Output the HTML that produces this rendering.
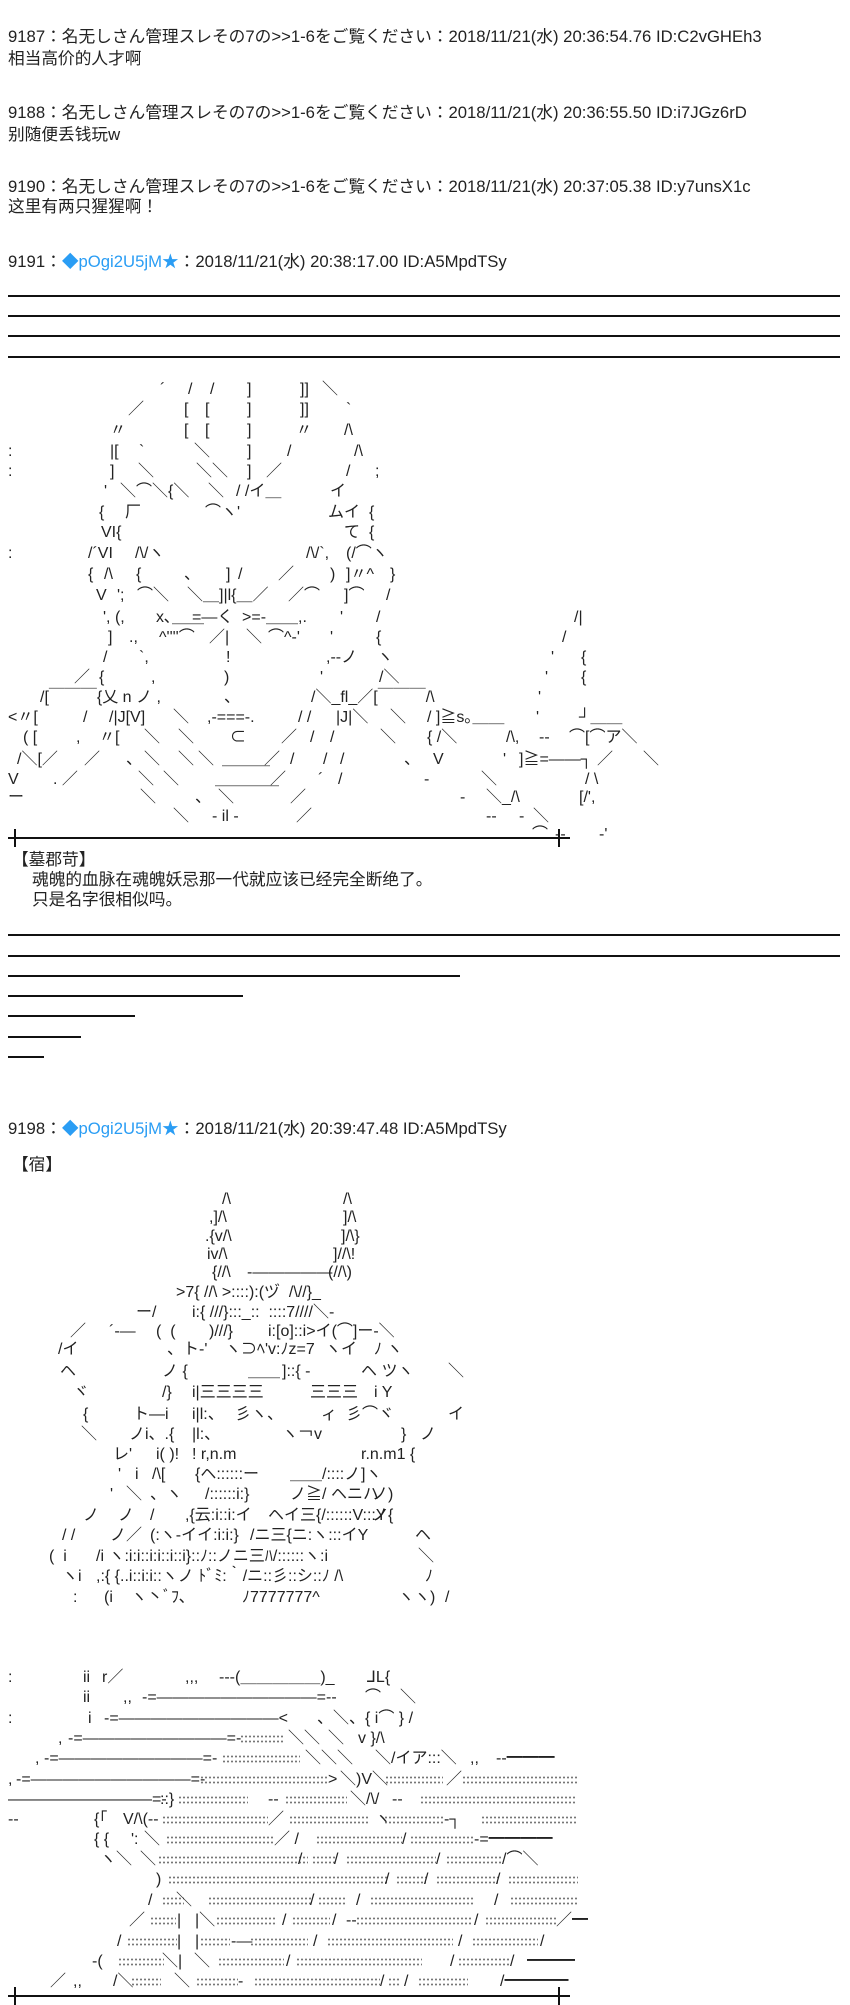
<!DOCTYPE html>
<html><head><meta charset="utf-8">
<style>
html,body{margin:0;padding:0;background:#fff;}
body{width:850px;height:2000px;position:relative;overflow:hidden;font-family:"Liberation Sans","Noto Sans CJK JP",sans-serif;color:#222;}
.t{position:absolute;left:8px;font-size:16.7px;line-height:20px;white-space:pre;}
.b{color:#2a9df4;}
.hr{position:absolute;left:8px;height:2px;background:#111;}
.tick{position:absolute;width:2px;height:18px;background:#111;}
.r{position:absolute;left:0;height:20px;width:850px;font-size:16px;line-height:20px;}
.r i{position:absolute;top:0;font-style:normal;white-space:pre;}
.r b{position:absolute;top:5px;height:10px;background:radial-gradient(circle,#777 0.8px,transparent 1.2px) 0 0/4px 5px;}
</style></head><body>

<div class="t" style="top:27px">9187：名无しさん管理スレその7の&gt;&gt;1-6をご覧ください：2018/11/21(水) 20:36:54.76 ID:C2vGHEh3</div>
<div class="t" style="top:49px">相当高价的人才啊</div>
<div class="t" style="top:103px">9188：名无しさん管理スレその7の&gt;&gt;1-6をご覧ください：2018/11/21(水) 20:36:55.50 ID:i7JGz6rD</div>
<div class="t" style="top:125px">别随便丢钱玩w</div>
<div class="t" style="top:177px">9190：名无しさん管理スレその7の&gt;&gt;1-6をご覧ください：2018/11/21(水) 20:37:05.38 ID:y7unsX1c</div>
<div class="t" style="top:197px">这里有两只猩猩啊！</div>
<div class="t" style="top:252px">9191：<span class="b">◆pOgi2U5jM★</span>：2018/11/21(水) 20:38:17.00 ID:A5MpdTSy</div>

<div class="hr" style="top:295px;width:832px"></div>
<div class="hr" style="top:315px;width:832px"></div>
<div class="hr" style="top:335px;width:832px"></div>
<div class="hr" style="top:356px;width:832px"></div>

<!-- AA 1 -->
<div class="r" style="top:380px"><i style="left:160px">´</i><i style="left:188px">/</i><i style="left:210px">/</i><i style="left:247px">]</i><i style="left:300px">]]</i><i style="left:322px">＼</i></div>
<div class="r" style="top:400px"><i style="left:128px">／</i><i style="left:184px">[</i><i style="left:205px">[</i><i style="left:247px">]</i><i style="left:300px">]]</i><i style="left:346px">`</i></div>
<div class="r" style="top:421px"><i style="left:110px">〃</i><i style="left:184px">[</i><i style="left:205px">[</i><i style="left:247px">]</i><i style="left:296px">〃</i><i style="left:344px">/\</i></div>
<div class="r" style="top:442px"><i style="left:8px">:</i><i style="left:110px">|[</i><i style="left:139px">`</i><i style="left:194px">＼</i><i style="left:247px">]</i><i style="left:287px">/</i><i style="left:354px">/\</i></div>
<div class="r" style="top:462px"><i style="left:8px">:</i><i style="left:110px">]</i><i style="left:138px">＼</i><i style="left:196px">＼＼</i><i style="left:247px">]</i><i style="left:266px">／</i><i style="left:346px">/</i><i style="left:375px">;</i></div>
<div class="r" style="top:482px"><i style="left:104px">'</i><i style="left:120px">＼⌒＼{＼</i><i style="left:208px">＼</i><i style="left:236px">/ /イ＿</i><i style="left:330px">イ</i></div>
<div class="r" style="top:503px"><i style="left:99px">{</i><i style="left:125px">厂</i><i style="left:205px">⌒ヽ'</i><i style="left:328px">ムイ</i><i style="left:369px">{</i></div>
<div class="r" style="top:523px"><i style="left:101px">VI{</i><i style="left:344px">て</i><i style="left:369px">{</i></div>
<div class="r" style="top:544px"><i style="left:8px">:</i><i style="left:88px">/´VI</i><i style="left:135px">/\/ヽ</i><i style="left:306px">/\/`,</i><i style="left:346px">(/⌒ヽ</i></div>
<div class="r" style="top:565px"><i style="left:88px">{</i><i style="left:104px">/\</i><i style="left:136px">{</i><i style="left:184px">、</i><i style="left:226px">]</i><i style="left:238px">/</i><i style="left:278px">／</i><i style="left:330px">)</i><i style="left:346px">]〃^</i><i style="left:390px">}</i></div>
<div class="r" style="top:586px"><i style="left:96px">V</i><i style="left:117px">';</i><i style="left:137px">⌒＼</i><i style="left:187px">＼＿]|l{＿／</i><i style="left:288px">／⌒</i><i style="left:344px">]⌒</i><i style="left:386px">/</i></div>
<div class="r" style="top:608px"><i style="left:103px">', (,</i><i style="left:156px">x､＿＿</i><i style="left:192px">=―く</i><i style="left:242px">&gt;=-＿＿,.</i><i style="left:340px">'</i><i style="left:376px">/</i><i style="left:574px">/|</i></div>
<div class="r" style="top:628px"><i style="left:108px">]</i><i style="left:129px">.,</i><i style="left:159px">^''''⌒</i><i style="left:209px">／|</i><i style="left:246px">＼</i><i style="left:268px">⌒^-'</i><i style="left:330px">'</i><i style="left:376px">{</i><i style="left:562px">/</i></div>
<div class="r" style="top:648px"><i style="left:103px">/</i><i style="left:139px">`,</i><i style="left:226px">!</i><i style="left:326px">,-‐ノ</i><i style="left:377px">ヽ</i><i style="left:551px">'</i><i style="left:581px">{</i></div>
<div class="r" style="top:668px"><i style="left:74px">／</i><i style="left:99px">{</i><i style="left:151px">,</i><i style="left:224px">)</i><i style="left:320px">'</i><i style="left:379px">/＼</i><i style="left:545px">'</i><i style="left:581px">{</i></div>
<div class="r" style="top:688px"><i style="left:40px">/[￣￣￣{乂 n ノ ,</i><i style="left:224px">、</i><i style="left:311px">/＼_fl_／[￣￣￣/\</i><i style="left:538px">'</i></div>
<div class="r" style="top:708px"><i style="left:8px">&lt;〃[</i><i style="left:83px">/</i><i style="left:109px">/|J[V]</i><i style="left:173px">＼</i><i style="left:207px">,-===-.</i><i style="left:298px">/ /</i><i style="left:336px">|J|＼</i><i style="left:390px">＼</i><i style="left:427px">/ ]≧s｡＿＿</i><i style="left:536px">'</i><i style="left:579px">┘＿＿</i></div>
<div class="r" style="top:728px"><i style="left:23px">( [</i><i style="left:76px">,</i><i style="left:99px">〃[</i><i style="left:144px">＼</i><i style="left:178px">＼</i><i style="left:230px">⊂</i><i style="left:281px">／</i><i style="left:310px">/</i><i style="left:330px">/</i><i style="left:380px">＼</i><i style="left:427px">{ /＼</i><i style="left:506px">/\,</i><i style="left:539px">‐‐</i><i style="left:569px">⌒[⌒ア＼</i></div>
<div class="r" style="top:750px"><i style="left:17px">/＼[／</i><i style="left:84px">／</i><i style="left:126px">、</i><i style="left:144px">＼</i><i style="left:178px">＼</i><i style="left:198px">＼</i><i style="left:222px">＿＿＿</i><i style="left:264px">／</i><i style="left:290px">/</i><i style="left:323px">/</i><i style="left:340px">/</i><i style="left:404px">、</i><i style="left:433px">V</i><i style="left:503px">'</i><i style="left:519px">]≧=――┐</i><i style="left:597px">／</i><i style="left:643px">＼</i></div>
<div class="r" style="top:770px"><i style="left:8px">V</i><i style="left:53px">. ／</i><i style="left:138px">＼</i><i style="left:163px">＼</i><i style="left:215px">＿＿＿＿</i><i style="left:270px">／</i><i style="left:318px">´</i><i style="left:338px">/</i><i style="left:424px">-</i><i style="left:481px">＼</i><i style="left:585px">/ \</i></div>
<div class="r" style="top:788px"><i style="left:8px">ー</i><i style="left:140px">＼</i><i style="left:195px">、</i><i style="left:218px">＼</i><i style="left:290px">／</i><i style="left:460px">-</i><i style="left:486px">＼_/\</i><i style="left:579px">[/',</i></div>
<div class="r" style="top:807px"><i style="left:173px">＼</i><i style="left:212px">‐ il ‐</i><i style="left:296px">／</i><i style="left:486px">--</i><i style="left:519px">-</i><i style="left:533px">＼</i></div>
<div class="r" style="top:825px"><i style="left:532px">⌒</i><i style="left:555px">‐‐</i><i style="left:599px">-'</i></div>

<div class="hr" style="top:837px;left:8px;width:562px"></div>
<div class="tick" style="top:829px;left:14px"></div>
<div class="tick" style="top:829px;left:558px"></div>

<div class="t" style="top:850px;left:12px">【墓郡苛】</div>
<div class="t" style="top:870px;left:32px">魂魄的血脉在魂魄妖忌那一代就应该已经完全断绝了。</div>
<div class="t" style="top:890px;left:32px">只是名字很相似吗。</div>

<div class="hr" style="top:934px;width:832px"></div>
<div class="hr" style="top:955px;width:832px"></div>
<div class="hr" style="top:975px;width:452px"></div>
<div class="hr" style="top:995px;width:235px"></div>
<div class="hr" style="top:1015px;width:127px"></div>
<div class="hr" style="top:1036px;width:73px"></div>
<div class="hr" style="top:1056px;width:36px"></div>

<div class="t" style="top:1119px">9198：<span class="b">◆pOgi2U5jM★</span>：2018/11/21(水) 20:39:47.48 ID:A5MpdTSy</div>
<div class="t" style="top:1155px;left:12px">【宿】</div>

<!-- AA 2 upper -->
<div class="r" style="top:1190px"><i style="left:222px">/\</i><i style="left:343px">/\</i></div>
<div class="r" style="top:1208px"><i style="left:209px">,]/\</i><i style="left:343px">]/\</i></div>
<div class="r" style="top:1227px"><i style="left:205px">.{v/\</i><i style="left:341px">]/\}</i></div>
<div class="r" style="top:1245px"><i style="left:207px">iv/\</i><i style="left:333px">]//\!</i></div>
<div class="r" style="top:1263px"><i style="left:212px">{//\</i><i style="left:247px">-―――――</i><i style="left:328px">(//\)</i></div>
<div class="r" style="top:1283px"><i style="left:176px">&gt;7{ //\ &gt;::::):(ヅ  /\//}_</i></div>
<div class="r" style="top:1303px"><i style="left:136px">ー/</i><i style="left:192px">i:{ ///}:::_::  ::::7////＼‐</i></div>
<div class="r" style="top:1322px"><i style="left:70px">／</i><i style="left:109px">´‐―</i><i style="left:156px">(  (</i><i style="left:209px">)///}</i><i style="left:268px">i:[o]::i&gt;イ(⌒]ー‐＼</i></div>
<div class="r" style="top:1340px"><i style="left:58px">/イ</i><i style="left:167px">、ト-'</i><i style="left:225px">ヽ⊃ﾍ'v:ﾉz=7</i><i style="left:325px">ヽイ</i><i style="left:374px">ﾉ ヽ</i></div>
<div class="r" style="top:1362px"><i style="left:60px">ヘ</i><i style="left:162px">ノ {</i><i style="left:248px">＿＿</i><i style="left:282px">]::{ ‐</i><i style="left:361px">ヘ ツヽ</i><i style="left:448px">＼</i></div>
<div class="r" style="top:1383px"><i style="left:73px">ヾ</i><i style="left:162px">/}</i><i style="left:192px">i|三三三三</i><i style="left:310px">三三三</i><i style="left:374px">i Y</i></div>
<div class="r" style="top:1405px"><i style="left:83px">{</i><i style="left:133px">ト―i</i><i style="left:192px">i|l:、</i><i style="left:235px">彡ヽ、</i><i style="left:321px">ィ</i><i style="left:346px">彡⌒ヾ</i><i style="left:448px">イ</i></div>
<div class="r" style="top:1425px"><i style="left:81px">＼</i><i style="left:129px">ノi、.{</i><i style="left:192px">|l:、</i><i style="left:282px">ヽ￢v</i><i style="left:401px">}</i><i style="left:420px">ノ</i></div>
<div class="r" style="top:1445px"><i style="left:113px">レ'</i><i style="left:156px">i( )!</i><i style="left:192px">! r,n.m</i><i style="left:361px">r.n.m1 {</i></div>
<div class="r" style="top:1465px"><i style="left:118px">'</i><i style="left:135px">i</i><i style="left:152px">/\[</i><i style="left:195px">{ヘ::::::ー</i><i style="left:290px">＿＿/::::ノ</i><i style="left:361px">]ヽ</i></div>
<div class="r" style="top:1485px"><i style="left:110px">'</i><i style="left:126px">＼</i><i style="left:150px">、ヽ</i><i style="left:205px">/::::::i:}</i><i style="left:290px">ノ≧/</i><i style="left:331px">ヘニハ</i><i style="left:372px">ノ)</i></div>
<div class="r" style="top:1506px"><i style="left:83px">ノ</i><i style="left:118px">ノ</i><i style="left:150px">/</i><i style="left:185px">,{云:i::i:イ</i><i style="left:268px">ヘイ三{/::::::V:::Y</i><i style="left:372px">ノ{</i></div>
<div class="r" style="top:1526px"><i style="left:62px">/ /</i><i style="left:110px">ノ／</i><i style="left:150px">(:ヽ‐イイ:i:i:}</i><i style="left:250px">/ニ三{ニ:ヽ:::イY</i><i style="left:415px">ヘ</i></div>
<div class="r" style="top:1547px"><i style="left:49px">(  i</i><i style="left:96px">/i ヽ:i:i::i:i::i::i}::ﾉ::ノニ三ﾊ/::::::ヽ:i</i><i style="left:418px">＼</i></div>
<div class="r" style="top:1567px"><i style="left:62px">ヽi</i><i style="left:96px">,:{ {..i::i:i::ヽノ ﾄﾞﾐ:｀/ニ::彡::シ::ﾉ /\</i><i style="left:425px">ﾉ</i></div>
<div class="r" style="top:1588px"><i style="left:73px">:</i><i style="left:104px">(i</i><i style="left:131px">ヽ丶ﾞﾌ､</i><i style="left:242px">ﾉ7777777^</i><i style="left:398px">ヽヽ)</i><i style="left:445px">/</i></div>

<!-- AA 2 lower -->
<div class="r" style="top:1668px"><i style="left:8px">:</i><i style="left:83px">ii</i><i style="left:102px">r／</i><i style="left:185px">,,,</i><i style="left:219px">---(＿＿＿＿＿)_</i><i style="left:367px">⅃L{</i></div>
<div class="r" style="top:1688px"><i style="left:83px">ii</i><i style="left:123px">,,</i><i style="left:142px">-=――――――――――=--</i><i style="left:365px">⌒</i><i style="left:400px">＼</i></div>
<div class="r" style="top:1709px"><i style="left:8px">:</i><i style="left:88px">i</i><i style="left:104px">-=――――――――――&lt;</i><i style="left:317px">、＼、{ i⌒ } /</i></div>
<div class="r" style="top:1729px"><i style="left:58px">,</i><i style="left:68px">-=―――――――――=-</i><b style="left:240px;width:45px"></b><i style="left:288px">＼＼</i><i style="left:328px">＼</i><i style="left:358px">v }/\</i></div>
<div class="r" style="top:1749px"><i style="left:35px">,</i><i style="left:44px">-=―――――――――=-</i><b style="left:222px;width:78px"></b><i style="left:305px">＼＼＼</i><i style="left:375px">＼/イア:::＼</i><i style="left:470px">,,</i><i style="left:496px">‐-━━━</i></div>
<div class="r" style="top:1770px"><i style="left:8px">,</i><i style="left:16px">-=――――――――――=-</i><b style="left:200px;width:128px"></b><i style="left:328px">&gt;</i><i style="left:340px">＼)V＼</i><b style="left:385px;width:58px"></b><i style="left:446px">／</i><b style="left:462px;width:115px"></b></div>
<div class="r" style="top:1790px"><i style="left:8px">―――――――――=-</i><i style="left:160px">::}</i><b style="left:178px;width:70px"></b><i style="left:268px">‐-</i><b style="left:285px;width:62px"></b><i style="left:350px">＼/\/</i><i style="left:392px">‐‐</i><b style="left:420px;width:157px"></b></div>
<div class="r" style="top:1810px"><i style="left:8px">‐-</i><i style="left:94px">{「</i><i style="left:123px">V/\(‐-</i><b style="left:162px;width:106px"></b><i style="left:268px">／</i><b style="left:289px;width:80px"></b><i style="left:375px">ヽ</i><b style="left:384px;width:60px"></b><i style="left:444px">‐┐</i><b style="left:481px;width:96px"></b></div>
<div class="r" style="top:1830px"><i style="left:94px">{ {</i><i style="left:131px">':</i><i style="left:144px">＼</i><b style="left:166px;width:108px"></b><i style="left:274px">／ /</i><b style="left:316px;width:86px"></b><i style="left:402px">/</i><b style="left:410px;width:64px"></b><i style="left:474px">‐=━━━━</i></div>
<div class="r" style="top:1850px"><i style="left:100px">ヽ＼</i><i style="left:140px">＼</i><b style="left:158px;width:150px"></b><i style="left:298px">/</i><b style="left:312px;width:24px"></b><i style="left:334px">/</i><b style="left:346px;width:90px"></b><i style="left:436px">/</i><b style="left:446px;width:56px"></b><i style="left:502px">/⌒＼</i></div>
<div class="r" style="top:1870px"><i style="left:156px">)</i><b style="left:168px;width:220px"></b><i style="left:385px">/</i><b style="left:396px;width:30px"></b><i style="left:424px">/</i><b style="left:436px;width:62px"></b><i style="left:496px">/</i><b style="left:508px;width:70px"></b></div>
<div class="r" style="top:1891px"><i style="left:148px">/</i><b style="left:162px;width:22px"></b><i style="left:176px">＼</i><b style="left:208px;width:104px"></b><i style="left:310px">/</i><b style="left:318px;width:28px"></b><i style="left:356px">/</i><b style="left:370px;width:104px"></b><i style="left:494px">/</i><b style="left:510px;width:68px"></b></div>
<div class="r" style="top:1911px"><i style="left:129px">／</i><b style="left:150px;width:26px"></b><i style="left:177px">|</i><i style="left:195px">|＼</i><b style="left:216px;width:60px"></b><i style="left:282px">/</i><b style="left:292px;width:38px"></b><i style="left:332px">/</i><i style="left:346px">‐-</i><b style="left:356px;width:116px"></b><i style="left:474px">/</i><b style="left:485px;width:72px"></b><i style="left:556px">／━</i></div>
<div class="r" style="top:1932px"><i style="left:117px">/</i><b style="left:127px;width:50px"></b><i style="left:177px">|</i><i style="left:195px">|</i><b style="left:200px;width:30px"></b><i style="left:231px">‐―</i><b style="left:250px;width:58px"></b><i style="left:313px">/</i><b style="left:327px;width:126px"></b><i style="left:458px">/</i><b style="left:472px;width:66px"></b><i style="left:540px">/</i></div>
<div class="r" style="top:1952px"><i style="left:92px">-(</i><b style="left:118px;width:46px"></b><i style="left:162px">＼|</i><i style="left:194px">＼</i><b style="left:218px;width:66px"></b><i style="left:286px">/</i><b style="left:296px;width:126px"></b><i style="left:450px">/</i><b style="left:458px;width:52px"></b><i style="left:510px">/</i><i style="left:527px">━━━</i></div>
<div class="r" style="top:1972px"><i style="left:50px">／</i><i style="left:73px">,,</i><i style="left:113px">/＼</i><b style="left:131px;width:30px"></b><i style="left:174px">＼</i><b style="left:196px;width:42px"></b><i style="left:238px">‐</i><b style="left:254px;width:126px"></b><i style="left:380px">/</i><b style="left:388px;width:12px"></b><i style="left:404px">/</i><b style="left:418px;width:50px"></b><i style="left:500px">/━━━━</i></div>

<div class="hr" style="top:1995px;left:8px;width:562px"></div>
<div class="tick" style="top:1987px;left:14px"></div>
<div class="tick" style="top:1987px;left:558px"></div>
</body></html>
